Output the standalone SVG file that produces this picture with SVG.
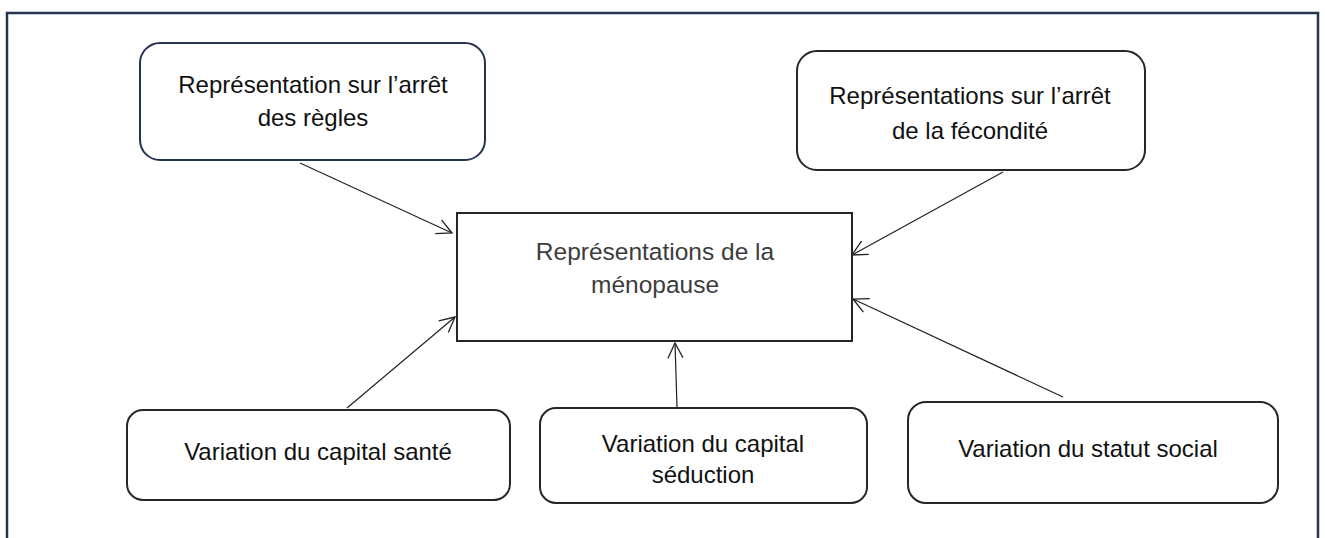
<svg xmlns="http://www.w3.org/2000/svg" width="1325" height="538" viewBox="0 0 1325 538">
  <defs>
    <style>
      .frame { fill: none; stroke: #26344f; stroke-width: 2.5; }
      .node { fill: #ffffff; stroke: #262626; stroke-width: 2; }
      .node-navy { fill: #ffffff; stroke: #26344f; stroke-width: 2; }
      .label { font-family: "Liberation Sans", Arial, sans-serif; font-size: 24px; fill: #111111; text-anchor: middle; }
      .label-center { font-family: "Liberation Sans", Arial, sans-serif; font-size: 24.5px; fill: #3c3c3c; text-anchor: middle; }
      .conn { fill: none; stroke: #222222; stroke-width: 1.2; }
    </style>
    <marker id="open-arrow" markerUnits="userSpaceOnUse" markerWidth="24" markerHeight="24" viewBox="-20 -12 24 24" refX="0" refY="0" orient="auto">
      <path d="M-15,-7.5 L0,0 L-15,7.5" fill="none" stroke="#222222" stroke-width="1.3"/>
    </marker>
  </defs>

  <rect class="frame" x="7" y="13" width="1311" height="545"/>

  <g id="connectors">
    <line class="conn" x1="300" y1="163" x2="452" y2="233" marker-end="url(#open-arrow)"/>
    <line class="conn" x1="1003" y1="172" x2="852" y2="255" marker-end="url(#open-arrow)"/>
    <line class="conn" x1="347" y1="408" x2="455" y2="317" marker-end="url(#open-arrow)"/>
    <line class="conn" x1="677" y1="407" x2="675" y2="343" marker-end="url(#open-arrow)"/>
    <line class="conn" x1="1063" y1="397" x2="853" y2="299" marker-end="url(#open-arrow)"/>
  </g>

  <g id="node-regles">
    <rect class="node-navy" x="140" y="43" width="345" height="117" rx="20" ry="20"/>
    <text class="label" x="313" y="93">Représentation sur l’arrêt</text>
    <text class="label" x="313" y="126">des règles</text>
  </g>

  <g id="node-fecondite">
    <rect class="node" x="797" y="51" width="348" height="119" rx="20" ry="20"/>
    <text class="label" x="970" y="104">Représentations sur l’arrêt</text>
    <text class="label" x="970" y="139">de la fécondité</text>
  </g>

  <g id="node-menopause">
    <rect class="node" x="457" y="213" width="395" height="128"/>
    <text class="label-center" x="655" y="260">Représentations de la</text>
    <text class="label-center" x="655" y="293">ménopause</text>
  </g>

  <g id="node-sante">
    <rect class="node" x="127" y="410" width="383" height="90" rx="16" ry="16"/>
    <text class="label" x="318" y="460">Variation du capital santé</text>
  </g>

  <g id="node-seduction">
    <rect class="node" x="540" y="408" width="327" height="95" rx="16" ry="16"/>
    <text class="label" x="703" y="452">Variation du capital</text>
    <text class="label" x="703" y="483">séduction</text>
  </g>

  <g id="node-statut">
    <rect class="node" x="908" y="402" width="370" height="101" rx="18" ry="18"/>
    <text class="label" x="1088" y="457">Variation du statut social</text>
  </g>
</svg>
